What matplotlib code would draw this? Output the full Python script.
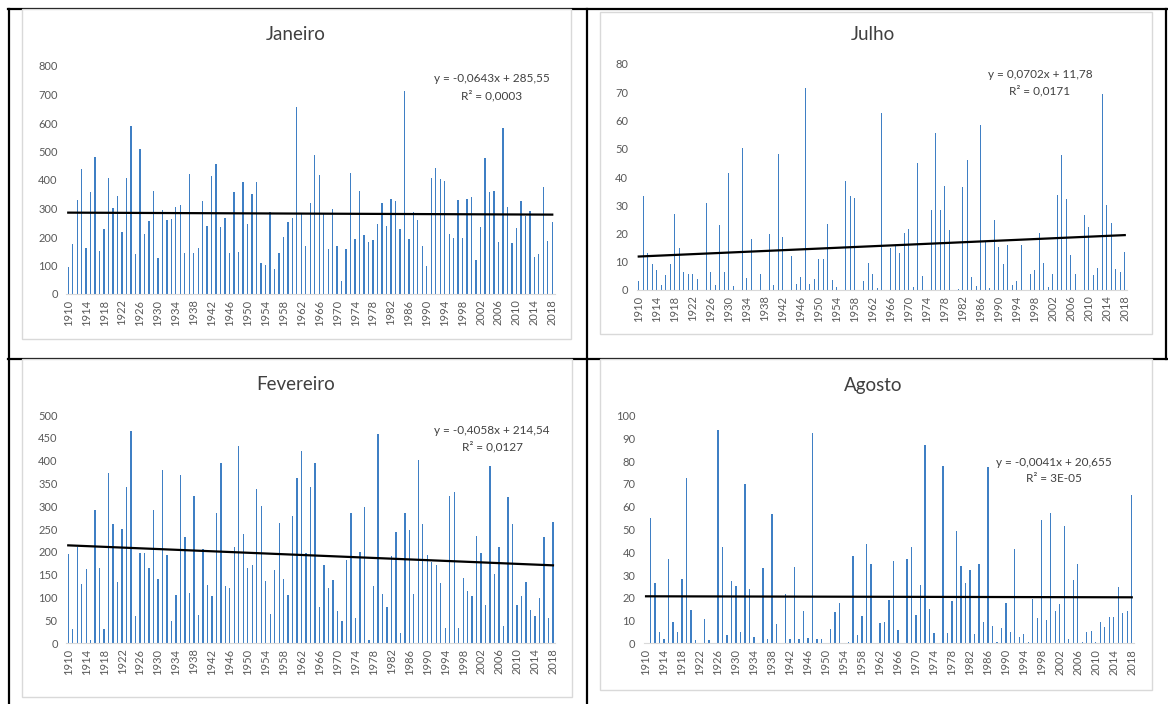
import matplotlib
matplotlib.use("Agg")
import matplotlib.pyplot as plt
import numpy as np
from matplotlib.patches import Rectangle
from matplotlib.lines import Line2D

plt.rcParams['font.family'] = ['Lato', 'DejaVu Sans']

years = list(range(1910, 2019))
tick_years = list(range(1910, 2019, 4))

jan = [96, 174, 331, 437, 160, 357, 480, 150, 228, 406,
       303, 344, 219, 406, 589, 140, 508, 212, 256, 362,
       127, 294, 258, 264, 307, 314, 145, 421, 145, 163,
       325, 240, 413, 455, 236, 266, 145, 357, 148, 394,
       244, 352, 394, 109, 101, 289, 88, 143, 199, 251,
       266, 656, 280, 170, 320, 486, 416, 280, 158, 300,
       168, 47, 158, 423, 194, 362, 208, 181, 191, 247,
       320, 237, 333, 327, 229, 712, 194, 286, 260, 170,
       99, 408, 443, 402, 398, 212, 198, 331, 195, 335,
       341, 121, 236, 476, 359, 361, 181, 583, 305, 178,
       230, 327, 273, 292, 129, 141, 374, 186, 253]

jul = [3.2, 33.3, 13.0, 9.2, 7.1, 1.9, 5.3, 9.3, 26.9, 14.9,
       6.3, 5.5, 5.5, 3.9, 0, 30.8, 6.5, 1.9, 23.0, 6.5,
       41.3, 1.4, 0, 50.3, 4.2, 17.9, 0, 5.7, 0, 19.7,
       1.8, 48.0, 18.6, 0, 12.0, 2.1, 4.5, 71.5, 2.1, 3.9,
       11.0, 11.0, 23.2, 3.4, 0.9, 0, 38.5, 33.3, 32.5, 0,
       3.2, 9.6, 5.5, 0.7, 62.7, 0, 14.8, 15.7, 13.0, 20.2,
       21.7, 1.2, 44.8, 5.0, 0, 28.3, 55.6, 28.3, 36.8, 21.2,
       0, 0.2, 36.3, 45.9, 4.5, 1.4, 58.4, 17.1, 0.7, 24.8,
       15.2, 9.2, 15.8, 1.9, 3.1, 15.8, 0, 5.7, 7.0, 20.2,
       9.6, 1.1, 5.7, 33.6, 47.8, 32.1, 12.4, 5.7, 0, 26.6,
       22.3, 5.3, 7.7, 69.5, 30.0, 23.7, 7.3, 6.4, 13.5]

fev = [195, 31, 211, 130, 162, 7, 292, 165, 30, 373,
       260, 134, 250, 342, 466, 59, 197, 197, 164, 291,
       140, 379, 194, 48, 106, 368, 233, 110, 322, 61,
       207, 127, 104, 284, 395, 125, 120, 211, 433, 240,
       165, 171, 338, 300, 136, 64, 160, 263, 141, 105,
       279, 362, 420, 197, 342, 394, 78, 172, 120, 138,
       70, 48, 181, 286, 54, 200, 298, 7, 125, 458,
       107, 78, 190, 244, 22, 286, 248, 107, 401, 260,
       192, 178, 172, 132, 33, 322, 331, 33, 143, 114,
       102, 235, 197, 83, 388, 152, 211, 38, 320, 260,
       83, 102, 134, 72, 60, 99, 233, 54, 266]

ago = [0, 55.0, 26.5, 5.0, 1.8, 36.9, 9.4, 5.0, 28.3, 72.5,
       14.6, 1.5, 0, 10.7, 1.5, 0, 93.7, 42.3, 3.7, 27.2,
       25.2, 5.0, 69.8, 24.0, 2.9, 0, 33.1, 2.0, 56.8, 8.5,
       0, 21.7, 1.8, 33.7, 2.0, 14.2, 2.3, 92.4, 1.8, 2.0,
       0, 6.3, 13.8, 17.9, 0, 0.7, 38.5, 3.7, 12.0, 43.6,
       34.7, 0, 8.9, 9.2, 19.2, 36.2, 5.9, 0, 36.9, 42.2,
       12.4, 25.6, 87.1, 15.2, 4.5, 0, 77.9, 4.5, 18.6, 49.2,
       34.0, 26.5, 32.4, 4.0, 35.0, 9.2, 77.3, 7.6, 0.4, 6.7,
       17.7, 5.0, 41.4, 2.9, 4.2, 0.4, 19.6, 11.1, 54.3, 10.2,
       57.2, 14.1, 17.3, 51.5, 2.0, 27.8, 35.0, 0.7, 5.0, 5.3,
       0.4, 9.5, 7.2, 11.4, 11.7, 24.9, 13.3, 14.2, 65.3]

titles = ["Janeiro", "Julho", "Fevereiro", "Agosto"]
slopes = [-0.0643, 0.0702, -0.4058, -0.0041]
intercepts = [285.55, 11.78, 214.54, 20.655]
eq_texts = ["y = -0,0643x + 285,55", "y = 0,0702x + 11,78",
            "y = -0,4058x + 214,54", "y = -0,0041x + 20,655"]
r2_texts = ["R² = 0,0003", "R² = 0,0171", "R² = 0,0127", "R² = 3E-05"]
y_max = [800, 80, 500, 100]
y_step = [100, 10, 50, 10]
series = [jan, jul, fev, ago]

W, H = 1168, 704
fig = plt.figure(figsize=(W / 100, H / 100), dpi=100)


def fx(x):
    return x / W


def fy(y):
    return 1 - y / H


# table lines
tbl = dict(color='black', lw=1.6, zorder=0)
for (x0, y0, x1, y1) in [(8, 9, 1168, 9), (8.5, 9, 8.5, 704), (587, 9, 587, 704),
                         (8, 358.5, 1168, 358.5), (1166, 9, 1166, 358.5)]:
    fig.add_artist(Line2D([fx(x0), fx(x1)], [fy(y0), fy(y1)],
                          transform=fig.transFigure, **tbl))

# chart areas (pixel boxes)
chart_boxes = [(22, 9, 571, 339), (600, 12, 1152, 334),
               (22, 359, 572, 697), (600, 359, 1152, 690)]
for (x0, y0, x1, y1) in chart_boxes:
    fig.add_artist(Rectangle((fx(x0), fy(y1)), fx(x1 - x0), (y1 - y0) / H,
                             transform=fig.transFigure, facecolor='white',
                             edgecolor='#d9d9d9', lw=1.0, zorder=1))

# plot areas: (x_left, x_right, y_top, y_bottom) in pixels
plot_boxes = [(66.0, 554.5, 66, 294), (636.5, 1127.0, 64, 290),
              (66.0, 555.2, 415, 643), (643.8, 1134.0, 415.7, 643.3)]
title_pos = [(296, 35), (873, 34), (296, 385), (873, 386)]
eq_pos = [(492, 79), (1040, 74), (492, 430), (1054, 462)]

bar_color = '#3f7fc4'
txt_color = '#595959'
x_idx = np.arange(len(years))

for k in range(4):
    xl, xr, yt, yb = plot_boxes[k]
    ax = fig.add_axes([fx(xl), fy(yb), (xr - xl) / W, (yb - yt) / H])
    ax.set_zorder(2)
    ax.patch.set_alpha(0)
    ax.bar(x_idx, series[k], width=0.3, color=bar_color, linewidth=0)
    trend = slopes[k] * (x_idx + 1) + intercepts[k]
    ax.plot([x_idx[0], x_idx[-1]], [trend[0], trend[-1]], color='black', lw=1.6)
    ax.set_xlim(-0.5, len(years) - 0.5)
    ax.set_ylim(0, y_max[k])
    ax.set_yticks(np.arange(0, y_max[k] + 1, y_step[k]))
    ax.set_xticks([years.index(t) for t in tick_years])
    ax.set_xticklabels([str(t) for t in tick_years], rotation=90)
    for s in ['top', 'right', 'left']:
        ax.spines[s].set_visible(False)
    ax.spines['bottom'].set_color('#d9d9d9')
    ax.spines['bottom'].set_linewidth(0.8)
    ax.tick_params(axis='both', length=0, labelsize=8, labelcolor=txt_color)
    ax.tick_params(axis='y', pad=6)
    ax.tick_params(axis='x', pad=4)
    tx, ty = title_pos[k]
    fig.text(fx(tx), fy(ty), titles[k], ha='center', va='center',
             fontsize=13.5, color='#404040', zorder=3)
    ex, ey = eq_pos[k]
    fig.text(fx(ex), fy(ey), eq_texts[k], ha='center', va='center',
             fontsize=8.5, color='#404040', zorder=3)
    fig.text(fx(ex), fy(ey + 17), r2_texts[k], ha='center', va='center',
             fontsize=8.5, color='#404040', zorder=3)

fig.savefig('out.png', dpi=100)
